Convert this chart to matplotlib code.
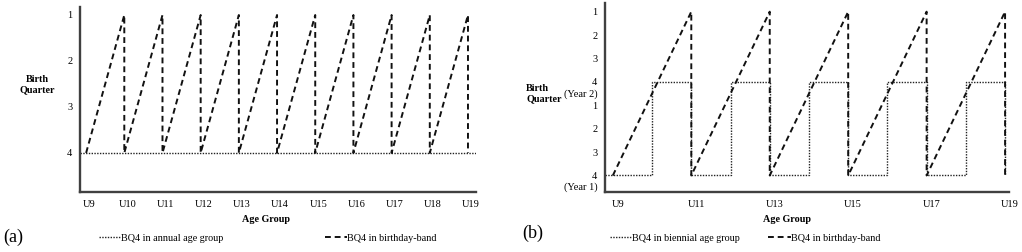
import matplotlib
matplotlib.use("Agg")
from matplotlib import pyplot as plt
from matplotlib.transforms import ScaledTranslation

plt.rcParams['font.family'] = ['Liberation Serif', 'DejaVu Serif']
plt.rcParams['font.size'] = 7.5

# Panel (a): annual age groups
ages_a = [9, 10, 11, 12, 13, 14, 15, 16, 17, 18, 19]
labels_a = ['U9', 'U10', 'U11', 'U12', 'U13', 'U14', 'U15', 'U16', 'U17', 'U18', 'U19']
quarter_ticks_a = [1, 2, 3, 4]
annual_bq_a = 4
band_x_a = [9, 10, 10, 11, 11, 12, 12, 13, 13, 14, 14, 15, 15, 16, 16, 17, 17, 18, 18, 19, 19]
band_y_a = [4, 1, 4, 1, 4, 1, 4, 1, 4, 1, 4, 1, 4, 1, 4, 1, 4, 1, 4, 1, 4]

# Panel (b): biennial age groups (0 = Q4 of year 1 ... 7 = Q1 of year 2)
ages_b = [9, 11, 13, 15, 17, 19]
labels_b = ['U9', 'U11', 'U13', 'U15', 'U17', 'U19']
level_ticks_b = [0, 1, 2, 3, 4, 5, 6, 7]
level_labels_b = ['4', '3', '2', '1', '4', '3', '2', '1']
year_labels_b = {0: '(Year 1)', 4: '(Year 2)'}
biennial_x_b = [8.8, 10, 10, 11, 11, 12, 12, 13, 13, 14, 14, 15, 15, 16, 16, 17, 17, 18, 18, 19, 19]
biennial_y_b = [0, 0, 4, 4, 0, 0, 4, 4, 0, 0, 4, 4, 0, 0, 4, 4, 0, 0, 4, 4, 0]
band_x_b = [9, 11, 11, 13, 13, 15, 15, 17, 17, 19, 19]
band_y_b = [0, 7, 0, 7, 0, 7, 0, 7, 0, 7, 0]

W, H = 1022, 252
fig = plt.figure(figsize=(W / 100, H / 100), dpi=100)

ax_a = fig.add_axes([80 / W, 1 - 192 / H, (476 - 80) / W, (192 - 7) / H])
ax_b = fig.add_axes([605 / W, 1 - 192 / H, (1009 - 605) / W, (192 - 3) / H])

dot_style = dict(color='#222222', lw=1.0, linestyle=(0, (1, 1)))
dash_style = dict(color='#111111', lw=1.4, linestyle=(0, (3, 2)))


def style_axes(ax, shift_px):
    for side in ['top', 'right']:
        ax.spines[side].set_visible(False)
    for side in ['left', 'bottom']:
        ax.spines[side].set_color('#404040')
        ax.spines[side].set_linewidth(1.7)
    ax.tick_params(length=0, pad=5.6, labelsize=7.5)
    offset = ScaledTranslation(shift_px / 100, 0, fig.dpi_scale_trans)
    for lab in ax.get_xticklabels():
        lab.set_transform(lab.get_transform() + offset)


# ---- (a)
ax_a.axhline(annual_bq_a, label='BQ4 in annual age group', **dot_style)
ax_a.plot(band_x_a, band_y_a, label='BQ4 in birthday-band', **dash_style)
ax_a.set_xlim(8.84, 19.21)
ax_a.set_ylim(4.85, 0.826)
ax_a.set_xticks(ages_a)
ax_a.set_xticklabels(labels_a)
ax_a.set_yticks(quarter_ticks_a)
ax_a.set_yticklabels([str(q) for q in quarter_ticks_a])
style_axes(ax_a, 3)
ax_a.text((266 - 80) / 396, -0.151, 'Age Group', transform=ax_a.transAxes,
          ha='center', va='center', fontweight='bold', fontsize=7.3)
fig.text(37 / W, 1 - 85 / H, 'Birth\nQuarter', ha='center', va='center',
         multialignment='center', fontweight='bold', fontsize=7.3)
fig.text(3 / W, 1 - 237 / H, '(a)', fontsize=13, ha='left', va='center')
ax_a.legend(loc='center', bbox_to_anchor=(268 / W, 1 - 238 / H),
            bbox_transform=fig.transFigure, ncol=2, frameon=False,
            handlelength=2.2, handletextpad=0.0, columnspacing=10.0,
            fontsize=7.3)

# ---- (b)
ax_b.plot(biennial_x_b, biennial_y_b, label='BQ4 in biennial age group', **dot_style)
ax_b.plot(band_x_b, band_y_b, label='BQ4 in birthday-band', **dash_style)
ax_b.set_xlim(8.8, 19.1)
ax_b.set_ylim(-0.705, 7.37)
ax_b.set_xticks(ages_b)
ax_b.set_xticklabels(labels_b)
ax_b.set_yticks(level_ticks_b)
ax_b.set_yticklabels(level_labels_b)
style_axes(ax_b, 5)
for lvl, txt in year_labels_b.items():
    ax_b.annotate(txt, xy=(0, lvl), xycoords=('axes fraction', 'data'),
                  xytext=(-5.6, -8.6), textcoords='offset points',
                  ha='right', va='center', fontsize=7.5)
ax_b.text((787 - 605) / 404, -0.148, 'Age Group', transform=ax_b.transAxes,
          ha='center', va='center', fontweight='bold', fontsize=7.3)
fig.text(526 / W, 1 - 94 / H, 'Birth\nQuarter', ha='left', va='center',
         multialignment='left', fontweight='bold', fontsize=7.3)
fig.text(522 / W, 1 - 233 / H, '(b)', fontsize=13, ha='left', va='center')
ax_b.legend(loc='center', bbox_to_anchor=(745 / W, 1 - 238 / H),
            bbox_transform=fig.transFigure, ncol=2, frameon=False,
            handlelength=2.2, handletextpad=0.0, columnspacing=2.8,
            fontsize=7.3)

fig.savefig('out.png', dpi=100)
